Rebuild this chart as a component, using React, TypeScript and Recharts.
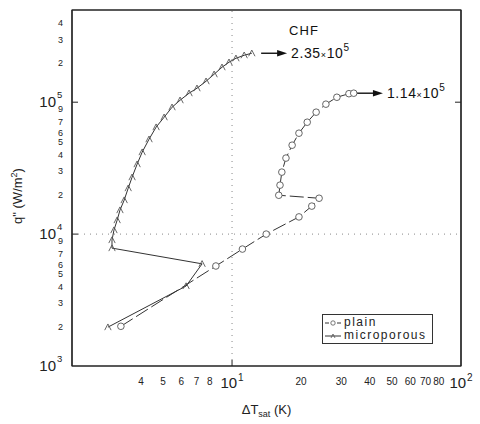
import React from "react"
import { ScatterChart, Scatter, XAxis, YAxis, ReferenceLine, ReferenceArea, Legend } from "recharts"

// wall superheat (K) and heat flux (W/m2) in test order
const plainDT = [3.27, 8.5, 11.1, 14.1, 19.6, 22.3, 24.0, 16.0, 16.2, 16.5, 17.2, 18.3, 19.6, 21.3, 23.3, 25.7, 28.7, 32.4, 34.0]
const plainQ = [2000, 5730, 7700, 10000, 13500, 16300, 18700, 19700, 23500, 29500, 37700, 47200, 58200, 70500, 84000, 96600, 109000, 116000, 117000]

const microDT = [2.87, 6.3, 7.4, 2.99, 2.99, 3.05, 3.15, 3.24, 3.38, 3.52, 3.66, 3.85, 4.05, 4.34, 4.66, 5.05, 5.47, 5.93, 6.49, 7.03, 7.7, 8.35, 9.04, 9.7, 10.4, 11.3, 12.2]
const microQ = [1970, 4040, 5950, 7830, 9010, 10720, 12760, 15200, 18100, 22300, 27000, 33900, 41800, 52400, 64700, 76900, 91600, 103500, 117000, 127600, 144200, 162900, 184100, 200900, 215300, 227000, 235000]

// CHF values written on the plot
const chfMicro = { from: 13.4, to: 17.4, q: 235000, mant: "2.35", exp: "5" }
const chfPlain = { from: 34.8, to: 45.6, q: 117000, mant: "1.14", exp: "5" }

const xDomain = [2, 100]
const yDomain = [1000, 500000]
const xTicks = [4, 5, 6, 7, 8, 10, 20, 30, 40, 50, 60, 70, 80, 100]
const yTicks = [1000, 2000, 3000, 4000, 5000, 6000, 7000, 9000, 10000, 20000, 30000, 40000, 50000, 60000, 70000, 90000, 100000, 200000, 300000, 400000]

const plain = plainDT.map((x, i) => ({ x, y: plainQ[i] }))
const micro = microDT.map((x, i) => ({ x, y: microQ[i] }))

const FONT = "'Liberation Sans', Arial, sans-serif"
const INK = "#222"

const XTick = (props: any) => {
  const { x, y, payload } = props
  const v = payload.value
  if (v === 10 || v === 100) {
    return (
      <g>
        {v === 10 && <line x1={x} x2={x} y1={y} y2={y - 6} stroke={INK} />}
        <text x={x} y={y + 22} textAnchor="middle" fontFamily={FONT} fill={INK}>
          <tspan fontSize={15}>10</tspan>
          <tspan fontSize={10} dy={-7} dx={1}>{v === 10 ? "1" : "2"}</tspan>
        </text>
      </g>
    )
  }
  return (
    <text x={x} y={y + 19} textAnchor="middle" fontFamily={FONT} fontSize={10} fill={INK}>
      {v}
    </text>
  )
}

// small nudges so the tightly packed 6/7 digits do not collide
const digitShift: Record<number, number> = { 6: 1, 7: -1, 9: 0.5 }

const YTick = (props: any) => {
  const { x, y, payload } = props
  const v = payload.value
  const exp = Math.round(Math.log10(v))
  if (Math.abs(v - Math.pow(10, exp)) < 1e-6 * v) {
    return (
      <g fontFamily={FONT} fill={INK}>
        {exp > 3 && <line x1={x} x2={x + 6} y1={y} y2={y} stroke={INK} />}
        <text x={x - 16} y={y + 5} textAnchor="end" fontSize={15}>10</text>
        <text x={x - 15} y={y - 4} textAnchor="start" fontSize={9.5}>{exp}</text>
      </g>
    )
  }
  const d = Math.round(v / Math.pow(10, Math.floor(Math.log10(v))))
  return (
    <text x={x - 9} y={y + 3.3 + (digitShift[d] || 0)} textAnchor="end" fontFamily={FONT} fontSize={9} fill={INK}>
      {d}
    </text>
  )
}

const TopTick = (props: any) => <line x1={props.x} x2={props.x} y1={props.y} y2={props.y + 6} stroke={INK} />
const RightTick = (props: any) => <line x1={props.x} x2={props.x - 6} y1={props.y} y2={props.y} stroke={INK} />

const Circle = (props: any) => (
  <circle cx={props.cx} cy={props.cy} r={3.3} fill="#fff" stroke="#555" strokeWidth={0.9} />
)
const Tri = (props: any) => {
  const { cx, cy } = props
  return <path d={`M${cx - 3.2},${cy + 3} L${cx},${cy - 3.2} L${cx + 3.2},${cy + 3}`} fill="none" stroke="#555" strokeWidth={0.9} />
}

const arrow = (mant: string, exp: string, chf?: boolean) => (props: any) => {
  const { x1, y1, x2, y2 } = props
  return (
    <g fontFamily={FONT} fill="#111">
      <line x1={x1} y1={y1} x2={x2 - 6} y2={y2} stroke="#111" strokeWidth={1.4} />
      <polygon points={`${x2},${y2} ${x2 - 10},${y2 - 3.2} ${x2 - 10},${y2 + 3.2}`} fill="#111" />
      {chf && (
        <text x={x2 + 2} y={y2 - 18} fontSize={13} letterSpacing={1}>CHF</text>
      )}
      <text x={x2 + 4} y={y2 + 5} fontSize={14} letterSpacing={0.6}>
        {mant}
        <tspan fontSize={9}>×</tspan>
        10
        <tspan fontSize={10} dy={-7}>{exp}</tspan>
      </text>
    </g>
  )
}

const LegendBox = () => (
  <div
    style={{
      border: "1px solid #333",
      boxSizing: "border-box",
      width: 111,
      height: 30,
      padding: "1px 0 0 2px",
      fontFamily: FONT,
      fontSize: 12,
      letterSpacing: 1.5,
      lineHeight: "13px",
      color: INK,
      background: "#fff",
    }}
  >
    {[
      { name: "plain", mark: <circle cx={8} cy={5} r={2.2} fill="#fff" stroke="#555" strokeWidth={0.8} />, dash: "4 2" },
      { name: "microporous", mark: <path d="M6,7 L8,3 L10,7" fill="none" stroke="#555" strokeWidth={0.8} />, dash: undefined },
    ].map((r) => (
      <div key={r.name} style={{ display: "flex", alignItems: "center", height: 13 }}>
        <svg width={16} height={10} style={{ marginRight: 3 }}>
          <line x1={0} x2={16} y1={5} y2={5} stroke="#333" strokeDasharray={r.dash} />
          {r.mark}
        </svg>
        <span>{r.name}</span>
      </div>
    ))}
  </div>
)

export default function App() {
  return (
    <div style={{ position: "absolute", left: 0, top: 0, width: 480, height: 424, background: "#fff" }}>
      <ScatterChart width={480} height={424} margin={{ top: 9, right: 18, bottom: 0, left: 10 }}>
        <XAxis
          dataKey="x"
          type="number"
          scale="log"
          domain={xDomain}
          allowDataOverflow
          ticks={xTicks}
          interval={0}
          tick={<XTick />}
          tickSize={0}
          tickMargin={0}
          tickLine={false}
          height={58}
          axisLine={{ stroke: INK, strokeWidth: 1.2 }}
          label={{
            content: (p: any) => {
              const { x, y, width, height } = p.viewBox
              return (
                <text x={x + width / 2} y={y + height - 10} textAnchor="middle" fontFamily={FONT} fontSize={13} fill={INK}>
                  ΔT
                  <tspan fontSize={9} dy={3}>sat</tspan>
                  <tspan dy={-3}> (K)</tspan>
                </text>
              )
            },
          }}
        />
        <XAxis
          xAxisId="top"
          orientation="top"
          type="number"
          scale="log"
          domain={xDomain}
          allowDataOverflow
          ticks={[10]}
          tick={<TopTick />}
          tickSize={0}
          tickMargin={0}
          tickLine={false}
          height={1}
          axisLine={{ stroke: INK, strokeWidth: 1.2 }}
        />
        <YAxis
          dataKey="y"
          type="number"
          scale="log"
          domain={yDomain}
          allowDataOverflow
          ticks={yTicks}
          interval={0}
          tick={<YTick />}
          tickSize={0}
          tickMargin={0}
          tickLine={false}
          width={62}
          axisLine={{ stroke: INK, strokeWidth: 1.2 }}
          label={{
            content: (p: any) => {
              const { y, height } = p.viewBox
              const cx = 22
              const cy = y + height / 2 + 8
              return (
                <text x={cx} y={cy} transform={`rotate(-90 ${cx} ${cy})`} textAnchor="middle" fontFamily={FONT} fontSize={13} fill={INK}>
                  q" (W/m
                  <tspan fontSize={9} dy={-5}>2</tspan>
                  <tspan dy={5}>)</tspan>
                </text>
              )
            },
          }}
        />
        <YAxis
          yAxisId="right"
          orientation="right"
          type="number"
          scale="log"
          domain={yDomain}
          allowDataOverflow
          ticks={[100000]}
          tick={<RightTick />}
          tickSize={0}
          tickMargin={0}
          tickLine={false}
          width={1}
          axisLine={{ stroke: INK, strokeWidth: 1.2 }}
        />
        <ReferenceArea x1={xDomain[0]} x2={xDomain[1]} y1={yDomain[0]} y2={yDomain[1]} fill="none" stroke={INK} strokeWidth={1.2} />
        <ReferenceLine x={10} stroke="#888" strokeDasharray="1 5" />
        <ReferenceLine y={10000} stroke="#888" strokeDasharray="1 5" />
        <Scatter
          name="plain"
          data={plain}
          line={{ stroke: "#333", strokeWidth: 1, strokeDasharray: "14 4" }}
          lineType="joint"
          shape={(p: any) => <Circle {...p} />}
          isAnimationActive={false}
        />
        <Scatter
          name="microporous"
          data={micro}
          line={{ stroke: "#333", strokeWidth: 1 }}
          lineType="joint"
          shape={(p: any) => <Tri {...p} />}
          isAnimationActive={false}
        />
        <ReferenceLine
          segment={[{ x: chfMicro.from, y: chfMicro.q }, { x: chfMicro.to, y: chfMicro.q }]}
          shape={arrow(chfMicro.mant, chfMicro.exp, true)}
        />
        <ReferenceLine
          segment={[{ x: chfPlain.from, y: chfPlain.q }, { x: chfPlain.to, y: chfPlain.q }]}
          shape={arrow(chfPlain.mant, chfPlain.exp)}
        />
        <Legend
          layout="horizontal"
          verticalAlign="middle"
          align="center"
          wrapperStyle={{ left: 322, top: 314, width: 111, height: 30 }}
          content={() => <LegendBox />}
        />
      </ScatterChart>
    </div>
  )
}
